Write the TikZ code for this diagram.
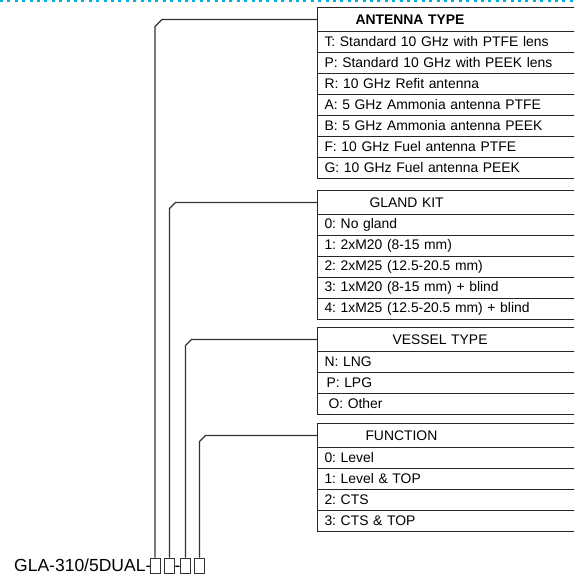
\documentclass[tikz,border=0pt]{standalone}
\usepackage{fontspec}
\setmainfont{Liberation Sans}
\usetikzlibrary{calc}
\definecolor{guide}{RGB}{0,176,222}
\frenchspacing
\tikzset{
	cell/.style={draw=black!85, line width=1pt, anchor=north west, minimum height=21pt, text width=269pt, inner xsep=7pt, inner ysep=0pt, align=left, font=\fontsize{13.9}{16}\selectfont},
	head/.style={cell, minimum height=24pt},
	slot/.style={draw=black!80, line width=0.8pt, minimum width=10pt, minimum height=15pt, inner sep=0pt},
	link/.style={draw=black!80, line width=1.1pt},
	code/.style={font=\fontsize{17.5}{20}\selectfont, inner sep=0pt}
}

\begin{document}
\begin{tikzpicture}[x=1pt, y=-1pt]
			%%%%% FRAME %%%%%
			\useasboundingbox (0, 0) rectangle (574, 575);
			\clip (0, 0) rectangle (574, 575);
			\draw[guide, line width=2pt, dash pattern=on 3pt off 4.4pt] (0, 1) -- (574, 1);
			
			%%%%% ANTENNA %%%%%
			\node[head] (antenna) at (317, 7) {\hspace*{31pt}\textbf{ANTENNA TYPE}};
			\node[cell] (at1) at (317, 31) {T: Standard 10 GHz with PTFE lens};
			\node[cell] (at2) at (317, 52) {P: Standard 10 GHz with PEEK lens};
			\node[cell] (at3) at (317, 73) {R: 10 GHz Refit antenna};
			\node[cell] (at4) at (317, 94) {A: 5 GHz Ammonia antenna PTFE};
			\node[cell] (at5) at (317, 115) {B: 5 GHz Ammonia antenna PEEK};
			\node[cell] (at6) at (317, 136) {F: 10 GHz Fuel antenna PTFE};
			\node[cell] (at7) at (317, 157) {G: 10 GHz Fuel antenna PEEK};
			
			%%%%% GLAND %%%%%
			\node[head] (gland) at (317, 190) {\hspace*{45pt}GLAND KIT};
			\node[cell] (gk0) at (317, 214) {0: No gland};
			\node[cell] (gk1) at (317, 235) {1: 2xM20 (8-15 mm)};
			\node[cell] (gk2) at (317, 256) {2: 2xM25 (12.5-20.5 mm)};
			\node[cell] (gk3) at (317, 277) {3: 1xM20 (8-15 mm) + blind};
			\node[cell] (gk4) at (317, 298) {4: 1xM25 (12.5-20.5 mm) + blind};
			
			%%%%% VESSEL %%%%%
			\node[head] (vessel) at (317, 327) {\hspace*{68pt}VESSEL TYPE};
			\node[cell] (vtN) at (317, 351) {N: LNG};
			\node[cell] (vtP) at (317, 372) {\hspace*{2pt}P: LPG};
			\node[cell] (vtO) at (317, 393) {\hspace*{4pt}O: Other};
			
			%%%%% FUNCTION %%%%%
			\node[head] (function) at (317, 423) {\hspace*{41pt}FUNCTION};
			\node[cell] (fn0) at (317, 447) {0: Level};
			\node[cell] (fn1) at (317, 468) {1: Level \& TOP};
			\node[cell] (fn2) at (317, 489) {2: CTS};
			\node[cell] (fn3) at (317, 510) {3: CTS \& TOP};
			
			%%%%% CODE %%%%%
			\node[code, anchor=base west] (type) at (14, 571) {GLA-310/5DUAL-};
			\node[slot] (s1) at (155, 565.5) {};
			\node[slot] (s2) at (169.5, 565.5) {};
			\node[code, anchor=base] (sep) at (177.5, 571) {-};
			\node[slot] (s3) at (185.5, 565.5) {};
			\node[slot] (s4) at (199.5, 565.5) {};
			
			\draw[link] (s1.north) -- ($(s1.north |- antenna.west)+(0, 7)$) -- ($(s1.north |- antenna.west)+(7, 0)$) -- (antenna.west);
			\draw[link] (s2.north) -- ($(s2.north |- gland.west)+(0, 6)$) -- ($(s2.north |- gland.west)+(6, 0)$) -- (gland.west);
			\draw[link] (s3.north) -- ($(s3.north |- vessel.west)+(0, 6)$) -- ($(s3.north |- vessel.west)+(6, 0)$) -- (vessel.west);
			\draw[link] (s4.north) -- ($(s4.north |- function.west)+(0, 6)$) -- ($(s4.north |- function.west)+(6, 0)$) -- (function.west);
		\end{tikzpicture}
\end{document}
